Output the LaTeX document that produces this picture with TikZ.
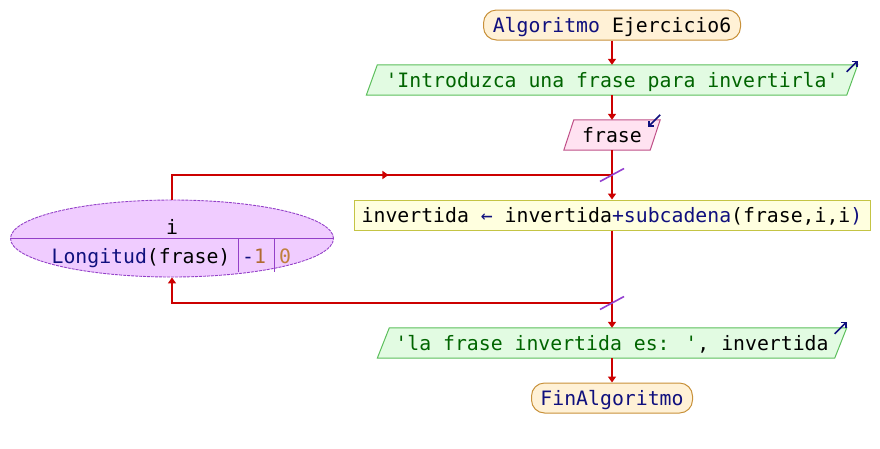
\documentclass[tikz,border=0pt]{standalone}
\usepackage{fontspec}
\newfontfamily\psfont{DejaVu Sans Mono}
\usetikzlibrary{arrows.meta,backgrounds,decorations.markings,shapes.geometric}
\definecolor{flowred}{HTML}{CC0000}
\definecolor{kw}{HTML}{10107E}
\definecolor{strc}{HTML}{006400}
\definecolor{numc}{HTML}{B06A30}
\definecolor{zeroc}{HTML}{C0803C}
\definecolor{slashc}{HTML}{9440D0}
\definecolor{termfill}{HTML}{FFF1D6}
\definecolor{termdraw}{HTML}{C8913A}
\definecolor{outfill}{HTML}{E2FBE2}
\definecolor{outdraw}{HTML}{5CBF5C}
\definecolor{infill}{HTML}{FFE2F1}
\definecolor{indraw}{HTML}{C05088}
\definecolor{asgfill}{HTML}{FFFFDF}
\definecolor{asgdraw}{HTML}{C4C444}
\definecolor{loopfill}{HTML}{F0CCFF}
\definecolor{loopdraw}{HTML}{9340C8}
\newcommand{\parashape}[3]{\path[#2] (#1.south west) -- ([xshift=#3]#1.north west) -- (#1.north east) -- ([xshift=-#3]#1.south east) -- cycle;}
\begin{document}
\begin{tikzpicture}[x=1pt,y=-1pt,
  font=\psfont\fontsize{19.8pt}{24pt}\selectfont,
  txt/.style={inner sep=0pt, text height=16pt, text depth=2pt},
  term/.style={txt, draw=termdraw, fill=termfill, line width=1pt, rounded corners=13pt, minimum height=30pt},
  parabox/.style={txt, minimum height=30pt},
  asg/.style={txt, draw=asgdraw, fill=asgfill, line width=1pt, minimum height=30pt},
  flow/.style={draw=flowred, line width=2pt, -{Triangle[width=8pt,length=6pt]}},
  plainflow/.style={draw=flowred, line width=2pt},
  icon/.style={draw=kw, line width=1.6pt, -{Straight Barb[length=3.5pt,width=7pt]}},
  slash/.style={draw=slashc, line width=1.6pt},
  loopline/.style={draw=loopdraw, line width=0.9pt}]
\useasboundingbox (0,0) rectangle (880,448);

% nodes
\node[term, minimum width=257pt] (start) at (612,25) {\textcolor{kw}{Algoritmo} Ejercicio6};
\node[parabox, minimum width=491pt] (out1) at (612,80) {\textcolor{strc}{'Introduzca una frase para invertirla'}};
\node[parabox, minimum width=96pt] (inp) at (612,135) {frase};
\node[asg, minimum width=516pt] (asg) at (612,215) {invertida \textcolor{kw}{←} invertida\textcolor{kw}{+subcadena}(frase,i,i\textcolor{kw}{)}};
\node[parabox, minimum width=469pt] (out2) at (612,343) {\textcolor{strc}{'la frase invertida es: '}, invertida};
\node[term, minimum width=161pt] (fin) at (612,398) {\textcolor{kw}{FinAlgoritmo}};

\node[ellipse, draw=loopdraw, fill=loopfill, line width=0.9pt, dash pattern=on 3pt off 1pt, minimum width=323pt, minimum height=77pt, inner sep=0pt] (loop) at (172,238.5) {};
\node[anchor=base, inner sep=0pt] (var) at (172,234.3) {i};
\node[anchor=base, inner sep=0pt] (lim) at (141,263.3) {\textcolor{kw}{Longitud}(frase)};
\node[anchor=base, inner sep=0pt] (stp) at (254,263.3) {\textcolor{kw}{-}\textcolor{numc}{1}};
\node[anchor=base, inner sep=0pt] (ini) at (285,263.3) {\textcolor{zeroc}{0}};

% shapes of the parallelograms
\begin{pgfonlayer}{background}
\parashape{out1}{draw=outdraw, fill=outfill, line width=1pt}{11pt}
\parashape{out2}{draw=outdraw, fill=outfill, line width=1pt}{12pt}
\parashape{inp}{draw=indraw, fill=infill, line width=1pt}{10pt}
\end{pgfonlayer}

% ellipse dividers
\draw[loopline] (loop.west) -- (loop.east);
\draw[loopline] (238,238.5) -- (238,271.5);
\draw[loopline] (274,238.5) -- (274,271.5);

% icons
\draw[icon] ([shift={(-11,7)}]out1.north east) -- ++(11,-11);
\draw[icon] ([shift={(0,-5)}]inp.north east) -- ++(-12,12);
\draw[icon] ([shift={(-12,6)}]out2.north east) -- ++(12,-12);

% loop joints
\coordinate (ltop) at (612,175);
\coordinate (lbot) at (612,303);

% connectors
\draw[flow] (start) -- (out1);
\draw[flow] (out1) -- (inp);
\draw[flow] (inp) -- (asg);
\draw[flow] (asg) -- (out2);
\draw[flow] (out2) -- (fin);
\draw[plainflow, postaction={decorate}, decoration={markings, mark=at position 241pt with {\arrow{Triangle[width=8pt,length=6pt]}}}] (loop.north) |- (ltop);
\draw[flow] (lbot) -| (loop.south);

% slashes
\draw[slash] ([shift={(-12,6.5)}]ltop) -- ([shift={(12,-6.5)}]ltop);
\draw[slash] ([shift={(-12,6.5)}]lbot) -- ([shift={(12,-6.5)}]lbot);
\end{tikzpicture}
\end{document}
